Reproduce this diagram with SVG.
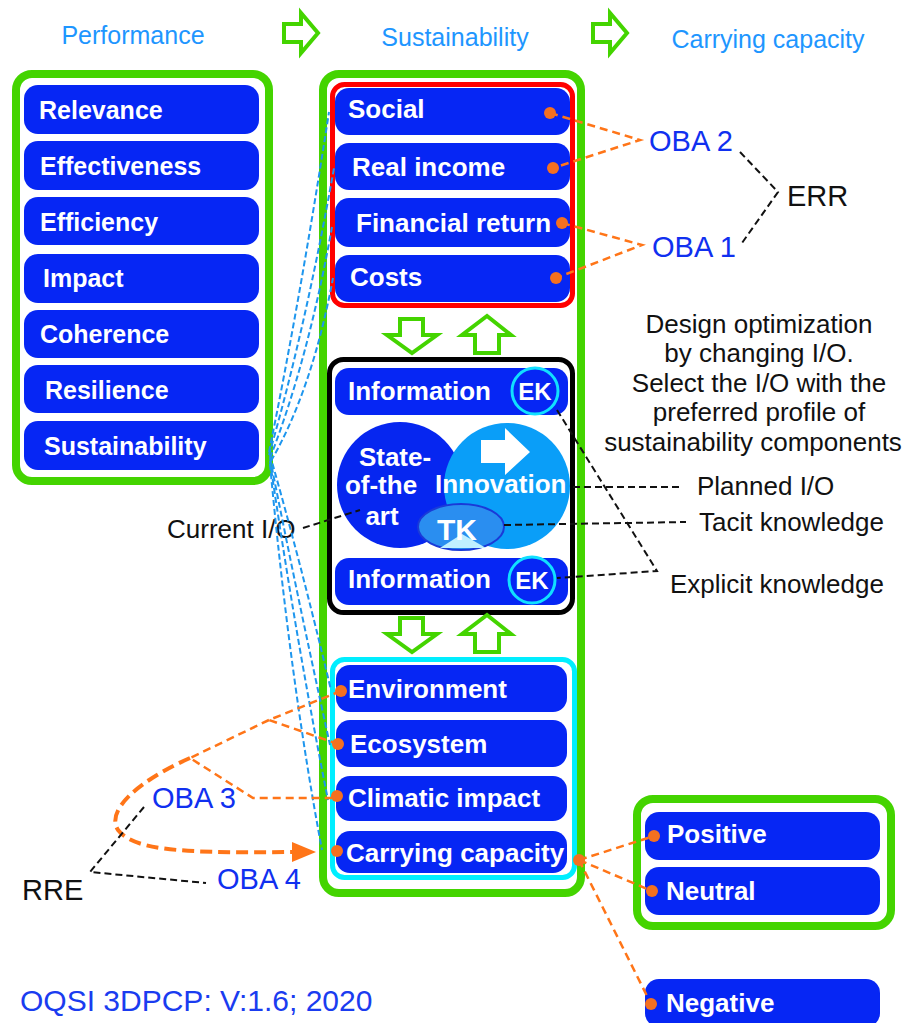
<svg xmlns="http://www.w3.org/2000/svg" width="909" height="1023" viewBox="0 0 909 1023">
<style>
.frame{fill:#fff;stroke:#44d400;stroke-width:8}
.box{fill:#0626f4}
.lt{font-family:"Liberation Sans",Arial,sans-serif;font-weight:bold;font-size:25px;fill:#fff}
.mt{font-family:"Liberation Sans",Arial,sans-serif;font-weight:bold;font-size:26px;fill:#fff}
.hd{font-family:"Liberation Sans",Arial,sans-serif;font-size:25px;fill:#1e96ff}
.oba{font-family:"Liberation Sans",Arial,sans-serif;font-size:29px;fill:#1030f0}
.bk{font-family:"Liberation Sans",Arial,sans-serif;font-size:26px;fill:#111}
.big{font-family:"Liberation Sans",Arial,sans-serif;font-size:29px;fill:#111}
.garrow{fill:#fff;stroke:#44d400;stroke-width:4;stroke-linejoin:miter}
.bl{fill:none;stroke:#1e96ee;stroke-width:2;stroke-dasharray:6 3}
.or{fill:none;stroke:#ff7518;stroke-width:2.5;stroke-dasharray:8 5}
.orb{fill:none;stroke:#ff7518;stroke-width:4;stroke-dasharray:12 6}
.bd{fill:none;stroke:#111;stroke-width:2;stroke-dasharray:7 4}
.dot{fill:#f47020}
.ek{fill:none;stroke:#10e0ff;stroke-width:3}
</style>

<g id="headers">
<text class="hd" x="133" y="44" text-anchor="middle">Performance</text>
<text class="hd" x="455" y="46" text-anchor="middle">Sustainability</text>
<text class="hd" x="768" y="48" text-anchor="middle">Carrying capacity</text>
<path class="garrow" d="M284,24 H301 V13 L318,33 L301,53 V42 H284 Z"/>
<path class="garrow" d="M593,24 H610 V13 L627,33 L610,53 V42 H593 Z"/>
</g>

<g id="frames">
<rect class="frame" x="16" y="74" width="253" height="407" rx="16"/>
<rect class="frame" x="323" y="74" width="258" height="819" rx="16"/>
<rect x="332.5" y="84.5" width="240" height="221" rx="12" fill="#fff" stroke="#ff0000" stroke-width="5"/>
<rect x="329.5" y="359.5" width="243" height="253" rx="14" fill="#fff" stroke="#000" stroke-width="5"/>
<rect x="332.5" y="659.5" width="242" height="218" rx="12" fill="#fff" stroke="#00eeff" stroke-width="5"/>
<rect class="frame" x="637" y="799" width="254" height="127" rx="16"/>
<path class="garrow" d="M400,319 H423 V335 H437 L412,353 L387,335 H400 Z"/>
<path class="garrow" d="M475,353 H499 V335 H511 L487,316 L462,335 H475 Z"/>
<path class="garrow" d="M400,618 H423 V634 H437 L412,652 L387,634 H400 Z"/>
<path class="garrow" d="M475,652 H499 V634 H511 L487,615 L462,634 H475 Z"/>
</g>

<g id="performance">
<g id="n-relevance"><rect class="box" x="24" y="85" width="235" height="49" rx="14"/><text class="lt" x="39" y="119">Relevance</text></g>
<g id="n-effectiveness"><rect class="box" x="24" y="141" width="235" height="49" rx="14"/><text class="lt" x="40" y="175">Effectiveness</text></g>
<g id="n-efficiency"><rect class="box" x="24" y="197" width="235" height="48" rx="14"/><text class="lt" x="40" y="231">Efficiency</text></g>
<g id="n-impact"><rect class="box" x="24" y="254" width="235" height="49" rx="14"/><text class="lt" x="43" y="287">Impact</text></g>
<g id="n-coherence"><rect class="box" x="24" y="310" width="235" height="48" rx="14"/><text class="lt" x="40" y="343">Coherence</text></g>
<g id="n-resilience"><rect class="box" x="24" y="365" width="235" height="48" rx="14"/><text class="lt" x="45" y="399">Resilience</text></g>
<g id="n-sustainability"><rect class="box" x="24" y="421" width="235" height="49" rx="14"/><text class="lt" x="44" y="455">Sustainability</text></g>
</g>

<g id="sustainability">
<g id="n-social"><rect class="box" x="335" y="88" width="235" height="47" rx="14"/><text class="mt" x="348" y="118">Social</text></g>
<g id="n-realincome"><rect class="box" x="335" y="143" width="235" height="47" rx="14"/><text class="mt" x="352" y="176">Real income</text></g>
<g id="n-financial"><rect class="box" x="335" y="198" width="235" height="49" rx="14"/><text class="mt" x="356" y="232">Financial return</text></g>
<g id="n-costs"><rect class="box" x="335" y="255" width="235" height="47" rx="14"/><text class="mt" x="350" y="286">Costs</text></g>
</g>

<g id="knowledge">
<g id="n-info-top"><rect class="box" x="335" y="368" width="233" height="47" rx="14"/><text class="mt" x="348" y="400">Information</text>
<circle class="ek" cx="535" cy="391" r="23"/><text class="mt" x="535" y="400" text-anchor="middle" style="font-size:24px">EK</text></g>
<g id="n-state"><circle cx="400" cy="485" r="63" fill="#0626f0"/></g>
<g id="n-innovation"><circle cx="507" cy="486" r="63" fill="#0a9ef8"/>
<path d="M481,440 H505 V428 L530,452 L505,475 V463 H481 Z" fill="#fff"/></g>
<text class="mt" x="395" y="466" text-anchor="middle">State-</text>
<text class="mt" x="381" y="494" text-anchor="middle">of-the</text>
<text class="mt" x="382" y="525" text-anchor="middle">art</text>
<text class="mt" x="435" y="493">Innovation</text>
<g id="n-tk"><ellipse cx="461" cy="527" rx="43" ry="23" fill="#2a8ef0" stroke="#1a3ad8" stroke-width="2"/>
<polygon points="440,548 462,534 486,548" fill="#c0f0ff"/>
<text class="mt" x="437" y="540" style="font-size:30px">TK</text></g>
<g id="n-info-bottom"><rect class="box" x="335" y="558" width="233" height="47" rx="14"/><text class="mt" x="348" y="588">Information</text>
<circle class="ek" cx="532" cy="580" r="23"/><text class="mt" x="532" y="589" text-anchor="middle" style="font-size:24px">EK</text></g>
</g>

<g id="carrying">
<g id="n-environment"><rect class="box" x="336" y="665" width="231" height="47" rx="14"/><text class="mt" x="348" y="698">Environment</text></g>
<g id="n-ecosystem"><rect class="box" x="336" y="720" width="231" height="47" rx="14"/><text class="mt" x="350" y="753">Ecosystem</text></g>
<g id="n-climatic"><rect class="box" x="336" y="776" width="231" height="45" rx="14"/><text class="mt" x="348" y="807">Climatic impact</text></g>
<g id="n-carrying"><rect class="box" x="336" y="831" width="231" height="42" rx="14"/><text class="mt" x="346" y="862">Carrying capacity</text></g>
</g>

<g id="outcomes">
<g id="n-positive"><rect class="box" x="645" y="812" width="235" height="48" rx="14"/><text class="mt" x="667" y="843">Positive</text></g>
<g id="n-neutral"><rect class="box" x="645" y="867" width="235" height="48" rx="14"/><text class="mt" x="666" y="900">Neutral</text></g>
<g id="n-negative"><rect class="box" x="645" y="979" width="235" height="48" rx="14"/><text class="mt" x="666" y="1012">Negative</text></g>
</g>

<g id="labels">
<text class="oba" x="649" y="151">OBA 2</text>
<text class="oba" x="652" y="257">OBA 1</text>
<text class="big" x="787" y="206">ERR</text>
<text class="oba" x="152" y="808">OBA 3</text>
<text class="oba" x="217" y="889">OBA 4</text>
<text class="big" x="22" y="900">RRE</text>
<text class="bk" x="759" y="333" text-anchor="middle">Design optimization</text>
<text class="bk" x="759" y="362" text-anchor="middle">by changing I/O.</text>
<text class="bk" x="759" y="392" text-anchor="middle">Select the I/O with the</text>
<text class="bk" x="759" y="421" text-anchor="middle">preferred profile of</text>
<text class="bk" x="753" y="451" text-anchor="middle">sustainability components</text>
<text class="bk" x="697" y="495">Planned I/O</text>
<text class="bk" x="699" y="531">Tacit knowledge</text>
<text class="bk" x="670" y="593">Explicit knowledge</text>
<text class="bk" x="167" y="538">Current I/O</text>
<text class="oba" x="20" y="1011" style="fill:#1a3cf0;font-size:30px">OQSI 3DPCP: V:1.6; 2020</text>
</g>

<g id="connectors">
<path class="bl" d="M269,452 Q300,300 329,112"/>
<path class="bl" d="M269,455 Q305,330 334,168"/>
<path class="bl" d="M270,458 Q308,360 332,227"/>
<path class="bl" d="M271,461 Q312,390 333,278"/>
<path class="bl" d="M270,455 Q300,560 331,690"/>
<path class="bl" d="M270,458 Q298,600 330,745"/>
<path class="bl" d="M270,461 Q296,640 328,800"/>
<path class="bl" d="M270,464 Q290,680 322,850"/>

<path class="or" d="M550,113 L640,140 L553,168"/>
<path class="or" d="M562,223 L642,245 L556,278"/>
<path class="bd" d="M740,152 L778,192 L742,243"/>

<path class="bd" d="M573,487 H683"/>
<path class="bd" d="M504,525 L686,522"/>
<path class="bd" d="M557,410 L657,571 L557,578"/>
<path class="bd" d="M303,528 L360,510"/>

<path class="or" d="M341,691 L269,720 L338,744"/>
<path class="or" d="M269,720 L190,758 L253,798 H337"/>
<path class="orb" d="M190,758 C140,780 105,810 118,830 C135,852 190,853 296,852"/>
<polygon points="292,842 316,852 292,862" fill="#ff7518"/>
<path class="bd" d="M144,807 L90,872 L206,883"/>

<path class="or" d="M579,860 L654,836"/>
<path class="or" d="M579,860 L652,891"/>
<path class="or" d="M579,860 L651,1004"/>

<circle class="dot" cx="550" cy="113" r="6"/>
<circle class="dot" cx="553" cy="168" r="6"/>
<circle class="dot" cx="562" cy="223" r="6"/>
<circle class="dot" cx="556" cy="278" r="6"/>
<circle class="dot" cx="341" cy="691" r="6"/>
<circle class="dot" cx="338" cy="744" r="6"/>
<circle class="dot" cx="337" cy="796" r="6"/>
<circle class="dot" cx="337" cy="851" r="6"/>
<circle class="dot" cx="579" cy="860" r="6"/>
<circle class="dot" cx="654" cy="836" r="6"/>
<circle class="dot" cx="652" cy="891" r="6"/>
<circle class="dot" cx="651" cy="1004" r="6"/>
</g>
</svg>
